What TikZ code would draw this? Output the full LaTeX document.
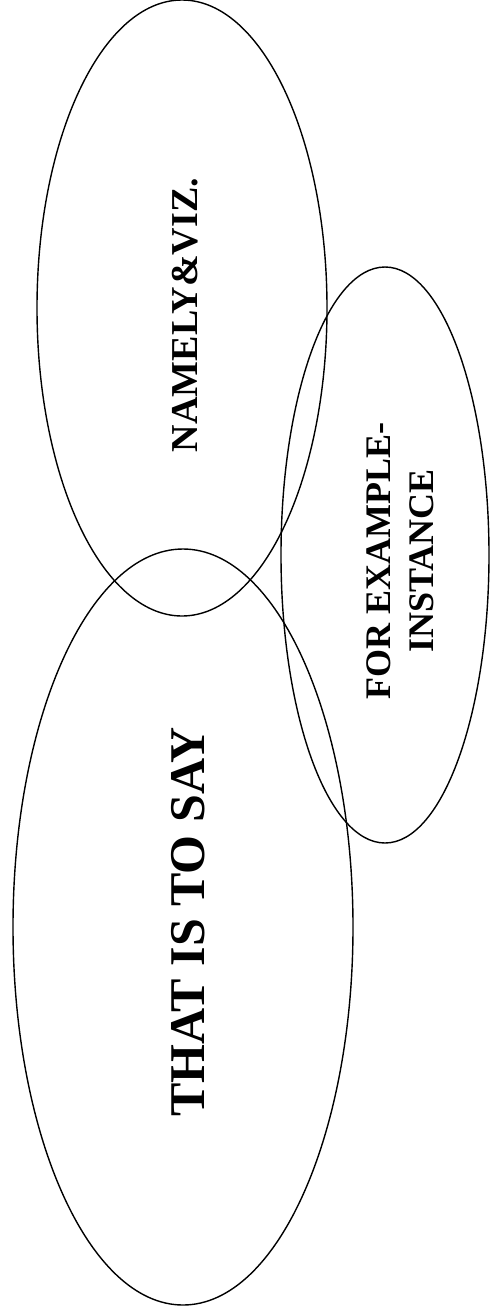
\documentclass[tikz,border=0pt]{standalone}
\usepackage{fontspec}
\setmainfont{Liberation Serif}
\usepackage{tikz}
\usetikzlibrary{shapes.geometric}

\begin{document}
\begin{tikzpicture}[x=1pt, y=1pt, line width=1.4pt,
  oval/.style={ellipse, draw, inner sep=0pt},
  lbl/.style={rotate=90, align=center, font=\bfseries}]
  \useasboundingbox (0,0) rectangle (490,-1315);
  \node[oval, minimum width=290pt, minimum height=616pt] (nv) at (182,-308) {};
  \node[oval, minimum width=208pt, minimum height=576pt] (ex) at (385,-555) {};
  \node[oval, minimum width=340pt, minimum height=756pt] (ts) at (183,-927) {};
  \node[lbl, font=\bfseries\fontsize{38}{44}\selectfont] (nvt) at (185,-315) {NAMELY\&VIZ.};
  \node[lbl, font=\bfseries\fontsize{36}{43}\selectfont] (ext) at (400,-561) {FOR EXAMPLE-\\INSTANCE};
  \node[lbl, font=\bfseries\fontsize{50}{58}\selectfont] (tst) at (188,-922) {THAT IS TO SAY};
\end{tikzpicture}
\end{document}
